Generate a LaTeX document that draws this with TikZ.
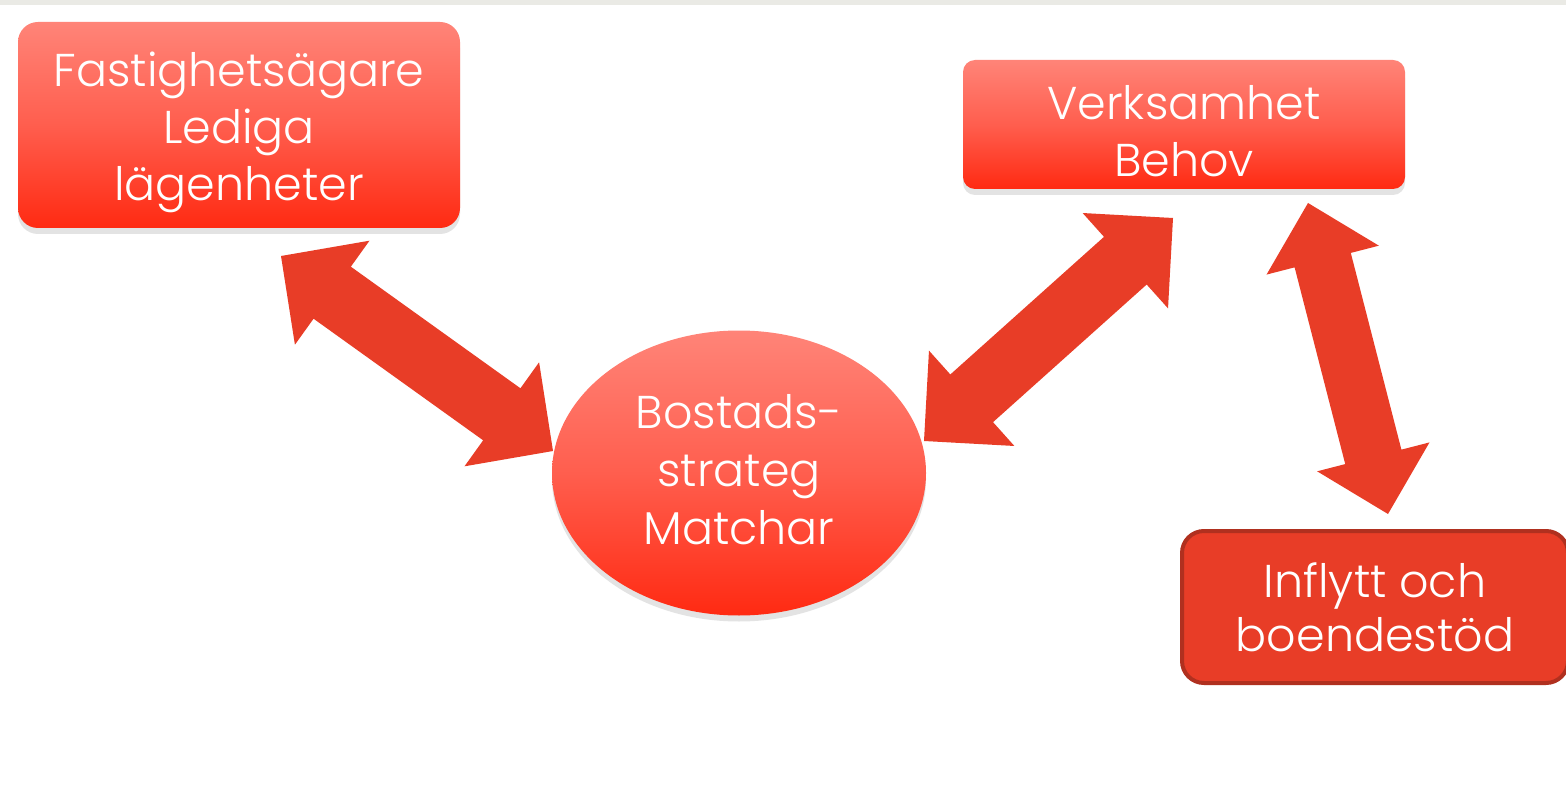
\documentclass[tikz,border=0pt]{standalone}
\usepackage{fontspec}
\setmainfont{Poppins Light}
\usetikzlibrary{calc,shapes.geometric,shadows}
\definecolor{ctop}{HTML}{FF8478}
\definecolor{cmid}{HTML}{FF5E4E}
\definecolor{cbot}{HTML}{FF2A12}
\definecolor{arrowred}{HTML}{E83D27}
\definecolor{darkborder}{HTML}{B0301F}
\definecolor{strip}{HTML}{EAEAE5}
\tikzset{
  gradbox/.style={rectangle, top color=ctop, bottom color=cbot, middle color=cmid, draw=none,
     drop shadow={opacity=0.22, shadow xshift=0pt, shadow yshift=-6pt}},
  boxtext/.style={text=white, align=center, font=\fontsize{46}{57}\selectfont, inner sep=0pt},
  solidbox/.style={rectangle, fill=arrowred, draw=darkborder, line width=4pt,
     text=white, align=center, font=\fontsize{46}{54}\selectfont},
  arrowfill/.style={fill=arrowred}
}
\newcommand\dblarrow[5]{%
  \path ($(#1)!#3!(#2)$) coordinate (h1) ($(#2)!#3!(#1)$) coordinate (h2);
  \fill[arrowfill] (#1) -- ($(h1)!#4!90:(#2)$) -- ($(h1)!#5!90:(#2)$)
     -- ($(h2)!#5!-90:(#1)$) -- ($(h2)!#4!-90:(#1)$) -- (#2)
     -- ($(h2)!#4!90:(#1)$) -- ($(h2)!#5!90:(#1)$)
     -- ($(h1)!#5!-90:(#2)$) -- ($(h1)!#4!-90:(#2)$) -- cycle;}
\begin{document}
\begin{tikzpicture}[x=1pt,y=-1pt]
\useasboundingbox (0,0) rectangle (1566,794);
\fill[white] (0,0) rectangle (1566,794);
\fill[strip] (0,0) rectangle (1566,5);
% nodes
\node[gradbox, rounded corners=20pt, minimum width=442pt, minimum height=206pt] (fast) at (239,125) {};
\node[boxtext] (fasttxt) at ([yshift=-7pt]fast.center) {Fastighetsägare\\Lediga\\lägenheter};
\node[gradbox, rounded corners=12pt, minimum width=442pt, minimum height=129pt] (verk) at (1184,124.5) {};
\node[boxtext] (verktxt) at ([yshift=-7pt]verk.center) {Verksamhet\\Behov};
\node[gradbox, ellipse, minimum width=374pt, minimum height=285pt, inner sep=0pt] (bost) at (739,473) {};
\node[boxtext, font=\fontsize{46}{58}\selectfont] (bosttxt) at ([yshift=3pt]bost.center) {Bostads-\\strateg\\Matchar};
\node[solidbox, rounded corners=22pt, minimum width=386pt, minimum height=152pt] (infl) at (1375,607)
  {Inflytt och\\boendestöd};
% arrows
\coordinate (a1) at (281,256); \coordinate (b1) at (553,451);
\coordinate (a2) at (1173,218); \coordinate (b2) at (924,441);
\coordinate (a3) at (1308,203); \coordinate (b3) at (1388,514);
\dblarrow{a1}{b1}{63pt}{64pt}{32pt}
\dblarrow{a2}{b2}{64pt}{64pt}{32pt}
\dblarrow{a3}{b3}{59pt}{58pt}{29pt}
\end{tikzpicture}
\end{document}
